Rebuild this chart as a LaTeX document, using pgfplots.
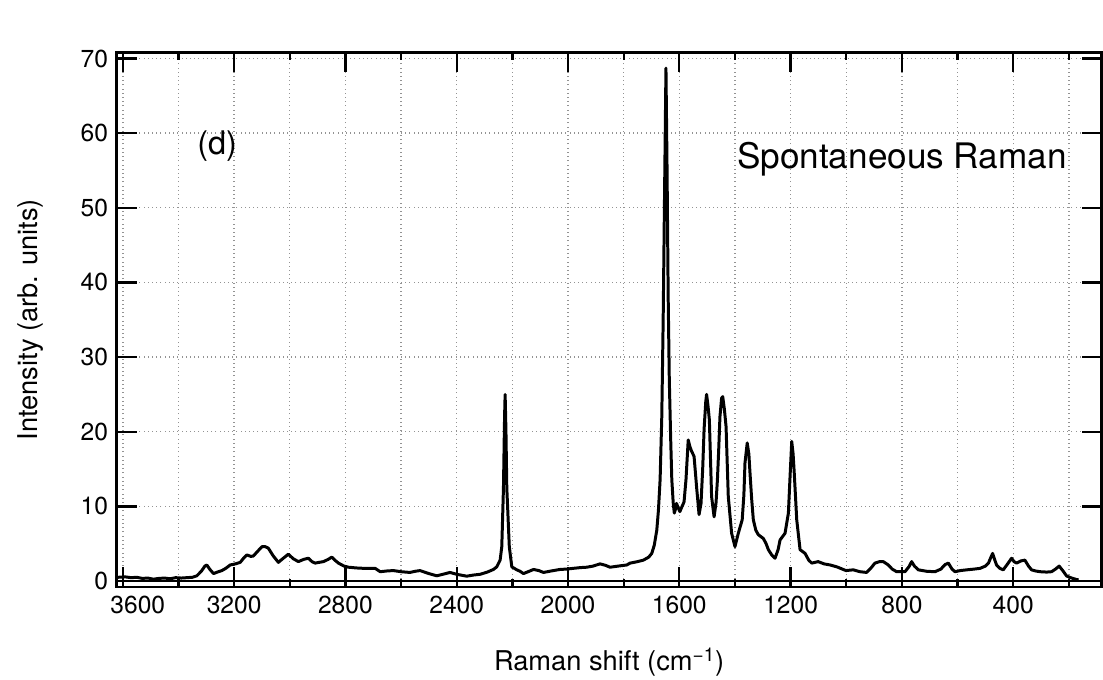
\documentclass[border=0pt]{standalone}
\usepackage{pgfplots}
\pgfplotsset{compat=1.18}
\usepackage{fontspec}
\setmainfont{TeX Gyre Heros}

\begin{document}
\begin{tikzpicture}
\useasboundingbox (-2.334cm,-1.86cm) rectangle (19.726cm,11.74cm);
\begin{axis}[
  at={(0,0)}, anchor=south west,
  scale only axis,
  width=19.7cm, height=10.69cm,
  x dir=reverse,
  xmin=82, xmax=3622,
  ymin=-0.8, ymax=70.8,
  xtick={400,800,...,3600},
  xticklabels={400,800,1200,1600,2000,2400,2800,3200,\hspace{0.6cm}3600},
  minor xtick={200,600,...,3400},
  ytick={0,10,...,70},
  grid=both,
  major grid style={gray!85, dotted, line width=0.8pt},
  minor grid style={gray!85, dotted, line width=0.8pt},
  tick align=inside,
  xtick pos=both, ytick pos=both,
  major tick length=0.4cm,
  minor tick length=0.16cm,
  tick style={black, line width=1.3pt},
  axis line style={black, line width=1.7pt},
  /pgf/number format/assume math mode=true,
  /pgf/number format/1000 sep={},
  ticklabel style={font=\fontsize{14}{17}\selectfont},
  xticklabel style={yshift=-0.05cm},
  yticklabel style={xshift=-0.05cm},
  extra y ticks={0},
  extra y tick labels={},
  extra y tick style={grid=major, major grid style={black, solid, line width=0.9pt}, major tick length=0pt},
  xlabel={Raman shift (cm\textsuperscript{−1})},
  ylabel={Intensity (arb. units)},
  label style={font=\fontsize{15.5}{18}\selectfont},
  xlabel style={at={(axis description cs:0.5,0)}, anchor=center, yshift=-1.5cm},
  ylabel style={at={(axis description cs:0,0.5)}, anchor=center, yshift=1.73cm},
  clip=false,
]
\addplot[black, line width=1.7pt, line join=round] coordinates {
(3618,0.5)(3590,0.55)(3570,0.45)(3550,0.5)(3530,0.35)(3510,0.4)(3490,0.25)(3470,0.35)
(3450,0.4)(3430,0.3)(3410,0.45)(3390,0.4)(3370,0.45)(3350,0.5)(3334,0.7)(3318,1.3)
(3305,2.0)(3298,2.15)(3288,1.6)(3274,1.0)(3260,1.2)(3244,1.4)(3230,1.7)(3214,2.15)
(3195,2.3)(3178,2.5)(3165,3.1)(3154,3.5)(3140,3.3)(3131,3.35)(3115,4.0)(3100,4.6)
(3088,4.6)(3077,4.4)(3060,3.4)(3041,2.5)(3025,3.0)(3005,3.6)(2988,3.0)(2969,2.6)
(2950,2.9)(2933,3.05)(2920,2.6)(2909,2.4)(2895,2.5)(2879,2.6)(2862,2.9)(2849,3.2)
(2838,2.8)(2825,2.4)(2805,2.0)(2789,1.85)(2760,1.75)(2735,1.7)(2715,1.7)(2693,1.7)
(2675,1.25)(2650,1.35)(2628,1.4)(2600,1.25)(2568,1.15)(2550,1.3)(2532,1.4)(2500,1.0)
(2472,0.7)(2450,0.9)(2424,1.15)(2400,0.9)(2364,0.65)(2340,0.8)(2316,0.9)(2290,1.2)
(2268,1.55)(2256,1.9)(2244,2.8)(2238,4.6)(2232,12.5)(2228,22)(2226,25.0)(2223,20)
(2220,12.5)(2211,4.6)(2202,1.9)(2184,1.5)(2172,1.3)(2160,1.0)(2140,1.3)(2124,1.55)
(2105,1.4)(2088,1.15)(2060,1.35)(2029,1.55)(2005,1.6)(1981,1.7)(1955,1.8)(1933,1.85)
(1910,2.0)(1885,2.3)(1865,2.1)(1849,1.85)(1820,2.0)(1789,2.15)(1777,2.4)(1750,2.6)
(1729,2.8)(1710,3.2)(1699,3.7)(1690,4.8)(1681,6.8)(1675,9.5)(1669,13.6)(1663,22)
(1658,35)(1653,52)(1648,68.7)(1644,55)(1640,38)(1636,27)(1631,19)(1627,13.6)
(1622,10.5)(1618,9.1)(1614,9.6)(1610,10.4)(1604,9.8)(1598,9.3)(1590,10.0)(1583,10.6)
(1576,13.6)(1568,18.9)(1562,18.0)(1556,17.4)(1547,16.7)(1537,12.2)(1529,8.9)(1522,10.4)
(1516,15)(1511,20.3)(1505,24.0)(1502,25.0)(1497,23.5)(1492,21.6)(1484,11.3)(1475,8.6)
(1468,10.5)(1463,13.6)(1458,18)(1454,22)(1448,24.5)(1444,24.7)(1438,23)(1432,20.7)
(1424,11.3)(1412,6.4)(1400,4.6)(1388,6.4)(1374,8.2)(1368,11.5)(1364,15.8)(1356,18.5)
(1350,17)(1346,14.5)(1340,11)(1334,8.2)(1325,6.8)(1316,6.2)(1298,5.7)(1288,5.0)
(1280,4.2)(1268,3.5)(1256,3.05)(1245,4.2)(1238,5.5)(1220,6.4)(1208,9.1)(1202,14)
(1196,18.7)(1191,17)(1187,14.5)(1178,8.2)(1166,4.2)(1148,3.7)(1135,2.8)(1124,2.4)
(1101,2.6)(1080,2.3)(1058,2.15)(1034,1.9)(1001,1.4)(975,1.5)(951,1.25)(927,1.15)
(910,1.8)(897,2.4)(880,2.6)(867,2.6)(849,2.15)(835,1.6)(819,1.25)(789,1.25)
(775,1.9)(765,2.6)(755,2.0)(741,1.5)(710,1.3)(681,1.25)(660,1.6)(645,2.2)
(633,2.4)(620,1.6)(609,1.25)(590,1.4)(567,1.5)(540,1.6)(519,1.7)(500,2.0)
(489,2.4)(480,3.2)(474,3.7)(466,2.8)(460,2.15)(448,1.7)(436,1.5)(420,2.3)
(406,3.05)(397,2.6)(388,2.4)(372,2.7)(358,2.8)(345,2.0)(334,1.5)(320,1.35)
(304,1.25)(280,1.2)(262,1.25)(248,1.6)(235,2.0)(222,1.4)(208,0.67)(190,0.4)
(172,0.2)(165,0.15)
};
\node[font=\fontsize{18.5}{22}\selectfont] at (axis cs:3261,58.3) {(d)};
\node[font=\fontsize{20}{24}\selectfont] at (axis cs:800,56.5) {Spontaneous Raman};
\end{axis}
\end{tikzpicture}
\end{document}
